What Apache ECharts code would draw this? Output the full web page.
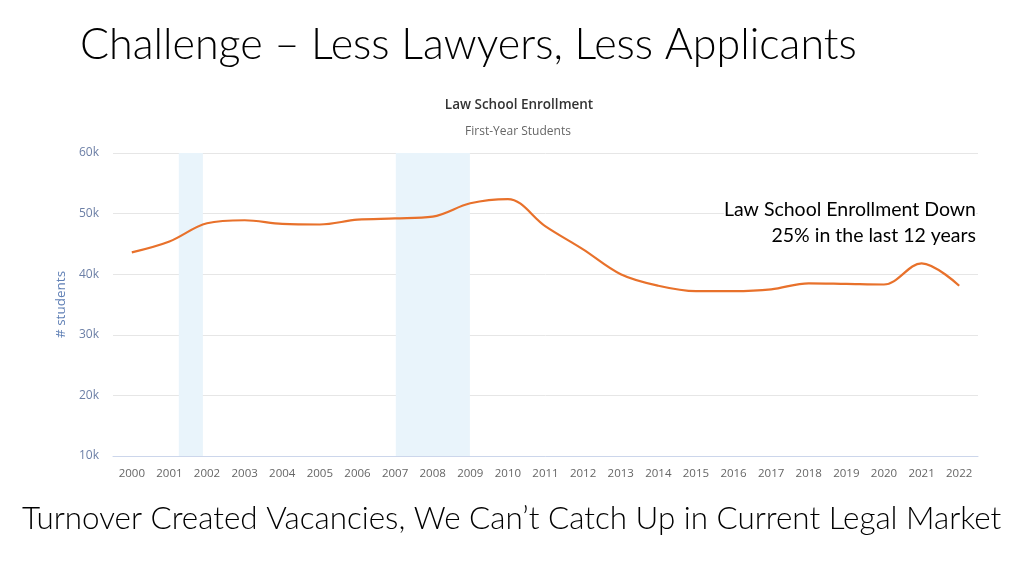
<!DOCTYPE html>
<html>
<head>
<meta charset="utf-8">
<script src="https://cdn.jsdelivr.net/npm/echarts@6/dist/echarts.min.js"></script>
<style>
html,body{margin:0;padding:0;background:#fff;}
#main{width:1024px;height:576px;}
</style>
</head>
<body>
<div id="main"></div>
<script>
const years = ['2000','2001','2002','2003','2004','2005','2006','2007','2008','2009','2010','2011','2012','2013','2014','2015','2016','2017','2018','2019','2020','2021','2022'];
const enrollment = [43600,45400,48400,48900,48300,48200,49000,49200,49500,51700,52400,47900,44100,40000,38100,37200,37200,37500,38500,38400,38300,41800,38100];
// shaded bands, in year units (category index positions)
const bands = [[1.25,1.89],[7.02,8.99]];
const yTicks = [10000,20000,30000,40000,50000,60000];

const chart = echarts.init(document.getElementById('main'));
chart.setOption({
  backgroundColor:'#ffffff',
  animation:false,
  title:[
    {text:'Law School Enrollment', left:514, top:93, textAlign:'center',
     textStyle:{fontFamily:'Open Sans', fontSize:13.5, fontWeight:600, color:'#333333'}},
    {text:'First-Year Students', left:513, top:121, textAlign:'center',
     textStyle:{fontFamily:'Open Sans', fontSize:12, fontWeight:'normal', color:'#666666'}}
  ],
  graphic:[
    {type:'text', left:80, top:24, style:{text:'Challenge – Less Lawyers, Less Applicants', font:'300 43px Lato', fill:'#000000'}},
    {type:'text', left:22, top:503, style:{text:'Turnover Created Vacancies, We Can’t Catch Up in Current Legal Market', font:'300 31.4px Lato', fill:'#000000'}},
    {type:'text', right:48, top:200, z:10, style:{text:'Law School Enrollment Down', font:'19.5px Lato', fill:'#000000', backgroundColor:'#ffffff'}},
    {type:'text', right:48, top:226, z:10, style:{text:'25% in the last 12 years', font:'19.5px Lato', fill:'#000000', backgroundColor:'#ffffff'}}
  ],
  grid:{left:113, right:46, top:153, bottom:120},
  xAxis:[
    {type:'category', data:years, boundaryGap:true,
     axisLine:{show:true, lineStyle:{color:'#ccd6eb', width:1}},
     axisTick:{show:false},
     axisLabel:{color:'#666666', fontFamily:'Open Sans', fontSize:11.5, margin:12, interval:0},
     splitLine:{show:false}},
    {type:'value', min:-0.5, max:22.5, show:false}
  ],
  yAxis:{type:'value', min:yTicks[0], max:yTicks[yTicks.length-1], interval:10000,
    name:'# students', nameLocation:'middle', nameGap:44, nameRotate:90,
    nameTextStyle:{color:'#5f7fb5', fontFamily:'Open Sans', fontSize:13.5},
    axisLine:{show:false}, axisTick:{show:false},
    axisLabel:{color:'#6c7fa6', fontFamily:'Open Sans', fontSize:12, margin:14, formatter:v=>(v/1000)+'k'},
    splitLine:{lineStyle:{color:'#e6e6e6', width:1}}
  },
  series:[
    {type:'line', xAxisIndex:1, data:[], silent:true,
     markArea:{silent:true, itemStyle:{color:'#e9f4fb'},
       data:bands.map(b=>[{xAxis:b[0]},{xAxis:b[1]}])}},
    {type:'line', data:enrollment, smooth:0.35, symbol:'none',
     lineStyle:{color:'#e8712b', width:2.2}, z:5}
  ]
});
</script>
</body>
</html>
